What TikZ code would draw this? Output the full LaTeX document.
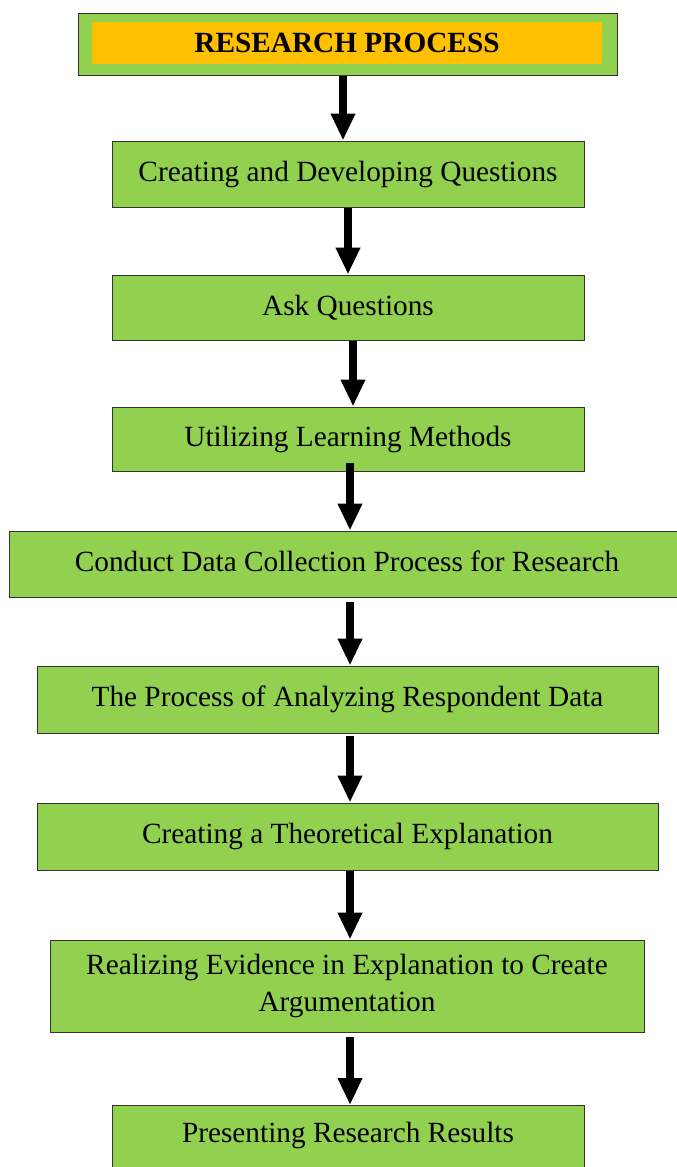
\documentclass[tikz,border=0pt]{standalone}
\usepackage{fontspec}
\setmainfont{Liberation Serif}
\usetikzlibrary{arrows.meta}
\definecolor{boxgreen}{HTML}{92D050}
\definecolor{titleorange}{HTML}{FFC000}
\begin{document}
\begin{tikzpicture}[x=1pt,y=-1pt,
  txt/.style={font=\fontsize{29.3}{37}\selectfont,align=center},
  stepbox/.style={draw=black!80,line width=1pt,fill=boxgreen,inner sep=0pt,txt},
  arr/.style={line width=8pt,-{Triangle[width=23pt,length=27pt]},black}]
\useasboundingbox (0,0) rectangle (677,1167);
\node[stepbox,minimum width=539pt,minimum height=62pt] (t) at (347.5,44) {};
\node[fill=titleorange,minimum width=510pt,minimum height=42pt,inner sep=0pt,
  font=\fontsize{29.3}{34}\selectfont\bfseries] (tin) at (347,43) {RESEARCH PROCESS};
\node[stepbox,minimum width=472pt,minimum height=66pt] (b1) at (348,174) {Creating and Developing Questions};
\node[stepbox,minimum width=472pt,minimum height=65pt] (b2) at (348,307.5) {Ask Questions};
\node[stepbox,minimum width=472pt,minimum height=64pt] (b3) at (348,439) {Utilizing Learning Methods};
\node[stepbox,minimum width=681pt,minimum height=66pt] (b4) at (349.5,564) {};
\node[txt] (b4t) at (347,561) {Conduct Data Collection Process for Research};
\node[stepbox,minimum width=621pt,minimum height=67pt] (b5) at (347.5,699.5) {The Process of Analyzing Respondent Data};
\node[stepbox,minimum width=621pt,minimum height=67pt] (b6) at (347.5,836.5) {Creating a Theoretical Explanation};
\node[stepbox,minimum width=594pt,minimum height=92pt] (b7) at (347,986) {Realizing Evidence in Explanation to Create\\Argumentation};
\node[stepbox,minimum width=472pt,minimum height=90pt,anchor=north] (b8) at (348,1105) {};
\node[txt] (b8t) at (348,1135) {Presenting Research Results};
\draw[arr] ([xshift=-4.5pt]t.south) -- ([xshift=-5pt]b1.north);
\draw[arr] ([xshift=0pt]b1.south) -- ([xshift=0pt]b2.north);
\draw[arr] ([xshift=5pt]b2.south) -- ([xshift=5pt]b3.north);
\draw[arr] ([xshift=2pt,yshift=9pt]b3.south) -- ([xshift=0.5pt]b4.north);
\draw[arr] ([xshift=0.5pt,yshift=-4pt]b4.south) -- ([xshift=2.5pt]b5.north);
\draw[arr] ([xshift=2.5pt,yshift=-2pt]b5.south) -- ([xshift=2.5pt]b6.north);
\draw[arr] ([xshift=2.5pt]b6.south) -- ([xshift=3pt]b7.north);
\draw[arr] ([xshift=3pt,yshift=-4pt]b7.south) -- ([xshift=2pt]b8.north);
\end{tikzpicture}
\end{document}
